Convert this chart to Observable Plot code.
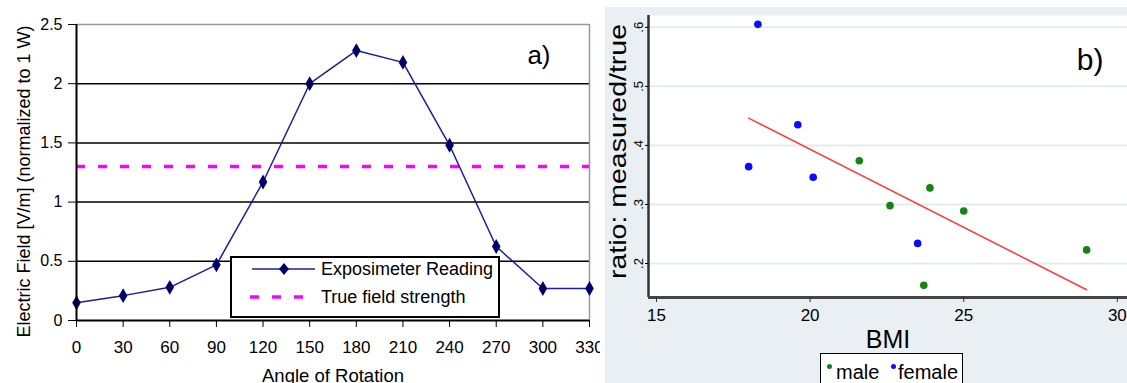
<!DOCTYPE html>
<html><head><meta charset="utf-8">
<script src="https://cdn.jsdelivr.net/npm/d3@7"></script>
<script src="https://cdn.jsdelivr.net/npm/@observablehq/plot@0.6"></script>
<style>
body{margin:0;background:#fff;font-family:"Liberation Sans",Arial,sans-serif;}
#wrap{position:relative;width:1127px;height:383px;overflow:hidden;background:#fff;}
#pa{position:absolute;left:0;top:0;}
#pb{position:absolute;left:605px;top:7px;width:522px;height:376px;background:#e9eff2;}
#legA{position:absolute;left:230px;top:256px;width:266px;height:58px;border:2px solid #000;background:#fff;font-size:18px;color:#000;}
#legA .t{position:absolute;left:89px;white-space:nowrap;line-height:20px;}
#legB{position:absolute;left:820px;top:353px;width:141px;height:40px;border:1px solid #000;background:#fff;font-size:20px;color:#000;}
#legB .t{position:absolute;top:7px;white-space:nowrap;line-height:22px;}
#legB .d{position:absolute;top:10px;width:5px;height:5px;border-radius:50%;}
</style></head><body>
<div id="wrap">
  <div id="pa"></div>
  <div id="pb"></div>
  <div id="legA">
    <svg width="86" height="58" style="position:absolute;left:0;top:0">
      <line x1="20" y1="11" x2="83" y2="11" stroke="#1c1c9c" stroke-width="1.5"/>
      <path d="M52,5 L57,11 L52,17 L47,11 Z" fill="#000066"/>
      <line x1="18" y1="39" x2="83" y2="39" stroke="#ff00ff" stroke-width="3.5" stroke-dasharray="9,13"/>
    </svg>
    <div class="t" style="top:1px">Exposimeter Reading</div>
    <div class="t" style="top:29px">True field strength</div>
  </div>
  <div id="legB">
    <div class="d" style="left:6px;background:#138413"></div>
    <div class="t" style="left:15px">male</div>
    <div class="d" style="left:70px;background:#0b0bff"></div>
    <div class="t" style="left:77px">female</div>
  </div>
</div>
<script>
// Panel a) data
const angles = [0, 30, 60, 90, 120, 150, 180, 210, 240, 270, 300, 330];
const exposimeter = [0.15, 0.21, 0.28, 0.47, 1.17, 2.0, 2.28, 2.18, 1.48, 0.625, 0.27, 0.27];
const trueField = [1.3];
const yTicksA = [0, 0.5, 1, 1.5, 2, 2.5];
const gridA = [0.5, 1, 1.5, 2];

// Panel b) data
const bmiMale = [21.6, 23.9, 22.6, 25.0, 29.0, 23.7];
const ratioMale = [0.374, 0.328, 0.298, 0.289, 0.223, 0.163];
const bmiFemale = [18.3, 19.6, 18.0, 20.1, 23.5];
const ratioFemale = [0.605, 0.435, 0.364, 0.346, 0.234];
const xTicksB = [15, 20, 25, 30];
const yTicksB = [0.2, 0.3, 0.4, 0.5, 0.6];

const font = "Liberation Sans, Arial, sans-serif";

const dataA = angles.map((a, i) => ({angle: a, value: exposimeter[i]}));
const chartA = Plot.plot({
  width: 600, height: 383,
  marginLeft: 76, marginTop: 24, marginRight: 11, marginBottom: 63,
  style: {fontFamily: font, fontSize: "16px", color: "#000", background: "transparent"},
  x: {domain: [0, 330]},
  y: {domain: [0, 2.5]},
  marks: [
    Plot.ruleY(gridA, {stroke: "#000", strokeWidth: 1.5}),
    Plot.ruleY([2.5], {stroke: "#999", strokeWidth: 1.5}),
    Plot.ruleX([330], {stroke: "#999", strokeWidth: 1.5}),
    Plot.ruleY(trueField, {stroke: "#ff00ff", strokeWidth: 3.5, strokeDasharray: "9,13"}),
    Plot.line(dataA, {x: "angle", y: "value", stroke: "#1c1c9c", strokeWidth: 1.5}),
    Plot.dot(dataA, {x: "angle", y: "value", symbol: "diamond", r: 4.5, fill: "#000066", stroke: "none"}),
    Plot.ruleX([0], {stroke: "#000", strokeWidth: 2}),
    Plot.ruleY([0], {stroke: "#000", strokeWidth: 2}),
    Plot.axisX({ticks: angles, tickFormat: d => String(d), tickSize: 7, tickPadding: 13, fontSize: 17, label: null}),
    Plot.axisY({ticks: yTicksA, tickFormat: d => String(d), tickSize: 8, tickPadding: 6, fontSize: 16, label: null}),
    Plot.text(["Angle of Rotation"], {frameAnchor: "bottom", lineAnchor: "middle", textAnchor: "middle", dy: 56, fontSize: 18.5}),
    Plot.text(["Electric Field [V/m] (normalized to 1 W)"], {frameAnchor: "left", lineAnchor: "middle", textAnchor: "middle", rotate: -90, dx: -52, dy: 9, fontSize: 18}),
    Plot.text(["a)"], {frameAnchor: "top-right", lineAnchor: "top", textAnchor: "end", dx: -39, dy: 21, fontSize: 26})
  ]
});
document.getElementById("pa").append(chartA);

const male = bmiMale.map((b, i) => ({bmi: b, ratio: ratioMale[i], sex: "male"}));
const female = bmiFemale.map((b, i) => ({bmi: b, ratio: ratioFemale[i], sex: "female"}));
const all = female.concat(male);
const xDomB = [14.74, 30.33];
const yDomB = [0.1424, 0.620];
const chartB = Plot.plot({
  width: 522, height: 376,
  marginLeft: 43, marginTop: 8, marginRight: 0, marginBottom: 86,
  style: {fontFamily: font, fontSize: "17px", color: "#000", background: "transparent"},
  x: {domain: xDomB},
  y: {domain: yDomB},
  marks: [
    Plot.frame({fill: "#fff", stroke: "none"}),
    Plot.ruleY(yTicksB, {stroke: "#e3ecef", strokeWidth: 2}),
    Plot.dot(male, {x: "bmi", y: "ratio", r: 3.8, fill: "#138413", stroke: "none"}),
    Plot.dot(female, {x: "bmi", y: "ratio", r: 3.8, fill: "#0b0bff", stroke: "none"}),
    Plot.linearRegressionY(all, {x: "bmi", y: "ratio", stroke: "#ff3b3b", strokeWidth: 1.5, ci: 0}),
    Plot.ruleX([xDomB[0]], {stroke: "#333", strokeWidth: 2.5}),
    Plot.ruleY([yDomB[0]], {stroke: "#444", strokeWidth: 3}),
    Plot.axisX({ticks: xTicksB, tickFormat: d => String(d), tickSize: 5, tickPadding: 6, fontSize: 17, label: null, stroke: "#333"}),
    Plot.axisY({ticks: yTicksB, tickFormat: d => String(d).replace(/^0/, ""), tickRotate: -90, tickSize: 3, tickPadding: 3, fontSize: 13, label: null}),
    Plot.text(["BMI"], {frameAnchor: "bottom", lineAnchor: "middle", textAnchor: "middle", dy: 42, fontSize: 25}),
    Plot.text(["ratio: measured/true"], {frameAnchor: "left", lineAnchor: "middle", textAnchor: "middle", rotate: -90, dx: -30, dy: -5, fontSize: 24}),
    Plot.text(["b)"], {frameAnchor: "top-right", lineAnchor: "top", textAnchor: "end", dx: -24, dy: 33, fontSize: 30})
  ]
});
document.getElementById("pb").append(chartB);
// stretch the y-axis title along its length, as in the reference
chartB.querySelectorAll("text").forEach(t => {
  if (t.textContent === "ratio: measured/true") {
    t.setAttribute("textLength", "255");
    t.setAttribute("lengthAdjust", "spacingAndGlyphs");
  }
});
</script>
</body></html>
